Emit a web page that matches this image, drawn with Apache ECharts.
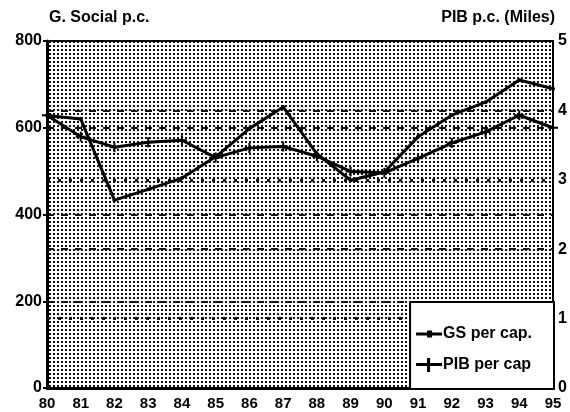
<!DOCTYPE html>
<html>
<head>
<meta charset="utf-8">
<script src="https://cdn.jsdelivr.net/npm/echarts@6/dist/echarts.min.js"></script>
<style>
  html, body { margin: 0; padding: 0; background: #fff; }
  #main { width: 570px; height: 412px; }
</style>
</head>
<body>
<div id="main"></div>
<script>
// años (eje x)
var years = ['80', '81', '82', '83', '84', '85', '86', '87', '88', '89', '90', '91', '92', '93', '94', '95'];
// G. Social per capita (eje izquierdo)
var gsPerCap = [628, 620, 433, 458, 484, 533, 598, 648, 540, 479, 498, 579, 629, 659, 710, 690];
// PIB per capita en miles (eje derecho)
var pibPerCap = [3.93, 3.62, 3.47, 3.54, 3.57, 3.32, 3.46, 3.48, 3.34, 3.12, 3.10, 3.31, 3.53, 3.69, 3.93, 3.75];
// líneas de referencia del eje derecho
var dashedLevels = [2, 4];
var crossLevels = [1, 3];

var FONT = 'Liberation Sans';
var plusPath = 'path://M4,0 L6,0 L6,4 L10,4 L10,6 L6,6 L6,10 L4,10 L4,6 L0,6 L0,4 L4,4 Z';

// fondo punteado como en la fotocopia
function dotPattern() {
  var c = document.createElement('canvas');
  c.width = 4;
  c.height = 4;
  var ctx = c.getContext('2d');
  ctx.fillStyle = '#ffffff';
  ctx.fillRect(0, 0, 4, 4);
  ctx.fillStyle = '#111111';
  ctx.fillRect(1, 1, 2, 2);
  return c;
}

var refLines = [];
dashedLevels.forEach(function (v) {
  refLines.push({ yAxis: v, lineStyle: { color: '#111', width: 2, type: [7, 7] } });
});
crossLevels.forEach(function (v) {
  refLines.push({ yAxis: v, lineStyle: { color: '#111', width: 3, type: [3, 8] } });
});

var chart = echarts.init(document.getElementById('main'));
chart.setOption({
  animation: false,
  backgroundColor: '#fff',
  textStyle: { fontFamily: FONT },
  grid: {
    left: 47, right: 17, top: 41, bottom: 24,
    show: true,
    borderColor: '#000',
    borderWidth: 2,
    backgroundColor: { image: dotPattern(), repeat: 'repeat' }
  },
  legend: {
    orient: 'vertical',
    right: 16,
    bottom: 23,
    padding: [24, 22, 16, 6],
    itemGap: 15,
    itemWidth: 26,
    itemHeight: 14,
    backgroundColor: '#fff',
    borderColor: '#000',
    borderWidth: 2,
    z: 10,
    textStyle: { fontFamily: FONT, fontSize: 16, fontWeight: 'bold', color: '#000', padding: [0, 0, 0, -4] },
    data: [
      { name: 'GS per cap.', icon: 'path://M0,5 L26,5 L26,8 L0,8 Z M11,3 L16,3 L16,10 L11,10 Z' },
      { name: 'PIB per cap', icon: 'path://M11,0 L14,0 L14,5 L26,5 L26,8 L14,8 L14,14 L11,14 L11,8 L0,8 L0,5 L11,5 Z' }
    ]
  },
  xAxis: {
    type: 'category',
    data: years,
    boundaryGap: false,
    axisLine: { lineStyle: { color: '#000', width: 3 } },
    axisTick: { show: false },
    axisLabel: { color: '#000', fontSize: 15, fontWeight: 'bold', margin: 8 },
    splitLine: { show: false }
  },
  yAxis: [
    {
      type: 'value',
      min: 0, max: 800, interval: 200,
      name: 'G. Social p.c.',
      nameLocation: 'end',
      nameGap: 15,
      nameTextStyle: { color: '#000', fontSize: 16, fontWeight: 'bold', align: 'left', padding: [0, 0, 0, 2] },
      axisLine: { show: true, lineStyle: { color: '#000', width: 3 } },
      axisTick: { show: true, length: 4, lineStyle: { color: '#000', width: 2 } },
      axisLabel: { color: '#000', fontSize: 16, fontWeight: 'bold', margin: 5 },
      splitLine: { show: true, lineStyle: { color: '#111', width: 2, type: [7, 7] } }
    },
    {
      type: 'value',
      min: 0, max: 5, interval: 1,
      name: 'PIB p.c. (Miles)',
      nameLocation: 'end',
      nameGap: 15,
      nameTextStyle: { color: '#000', fontSize: 16, fontWeight: 'bold', align: 'right', padding: [0, -2, 0, 0] },
      axisLine: { show: true, lineStyle: { color: '#000', width: 2 } },
      axisTick: { show: false },
      axisLabel: { color: '#000', fontSize: 16, fontWeight: 'bold', margin: 5 },
      splitLine: { show: false }
    }
  ],
  series: [
    {
      name: 'GS per cap.',
      type: 'line',
      data: gsPerCap,
      yAxisIndex: 0,
      symbol: 'circle',
      symbolSize: 4,
      itemStyle: { color: '#000' },
      lineStyle: { color: '#000', width: 3 },
      z: 5
    },
    {
      name: 'PIB per cap',
      type: 'line',
      data: pibPerCap,
      yAxisIndex: 1,
      symbol: plusPath,
      symbolSize: 10,
      itemStyle: { color: '#000' },
      lineStyle: { color: '#000', width: 3 },
      z: 5,
      markLine: {
        silent: true,
        symbol: 'none',
        label: { show: false },
        data: refLines
      }
    }
  ]
});
</script>
</body>
</html>
